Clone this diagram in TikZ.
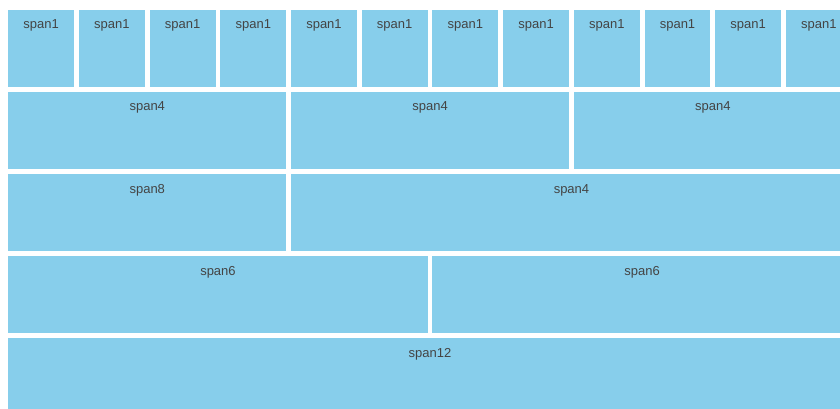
\documentclass[tikz,border=0pt]{standalone}
\usepackage{fontspec}
\setmainfont{Liberation Sans}
\usepackage{tikz}
\usetikzlibrary{positioning, calc}
\usepackage{xcolor}
\definecolor{cellblue}{HTML}{87CEEB}
\definecolor{spantext}{HTML}{444444}

\begin{document}
\begin{tikzpicture}[x=0.75pt, y=-0.75pt,
    cell/.style={fill=cellblue, draw=none, inner sep=0pt, anchor=north west, minimum height=57.75pt},
    celltext/.style={anchor=base, inner sep=0pt, text=spantext, font=\fontsize{9.75}{12}\selectfont}]
    \useasboundingbox (0, 0) rectangle (840, 409);
    \clip (0, 0) rectangle (840, 409);

    % span1 x 12
    \foreach \i in {1,...,12} {
        \node[cell, minimum width=49.4pt] (one\i) at ({8+70.7*(\i-1)}, 9.3) {};
        \node[celltext] (tone\i) at ([yshift=-14.6pt]one\i.north) {span1};
    }

    % span4 x 3
    \foreach \i in {1,2,3} {
        \node[cell, minimum width=208.5pt] (four\i) at ({8+282.8*(\i-1)}, 91.5) {};
        \node[celltext] (tfour\i) at ([yshift=-14.6pt]four\i.north) {span4};
    }

    % span8 + span4
    \node[cell, minimum width=208.5pt] (eightA) at (8, 173.7) {};
    \node[celltext] (teightA) at ([yshift=-14.6pt]eightA.north) {span8};
    \node[cell, minimum width=420.6pt] (eightB) at (290.8, 173.7) {};
    \node[celltext] (teightB) at ([yshift=-14.6pt]eightB.north) {span4};

    % span6 x 2
    \node[cell, minimum width=314.55pt] (sixA) at (8, 255.9) {};
    \node[celltext] (tsixA) at ([yshift=-14.6pt]sixA.north) {span6};
    \node[cell, minimum width=314.55pt] (sixB) at (432.2, 255.9) {};
    \node[celltext] (tsixB) at ([yshift=-14.6pt]sixB.north) {span6};

    % span12
    \node[cell, minimum width=632.7pt] (twelve) at (8, 338.1) {};
    \node[celltext] (ttwelve) at ([yshift=-14.6pt]twelve.north) {span12};
\end{tikzpicture}
\end{document}
